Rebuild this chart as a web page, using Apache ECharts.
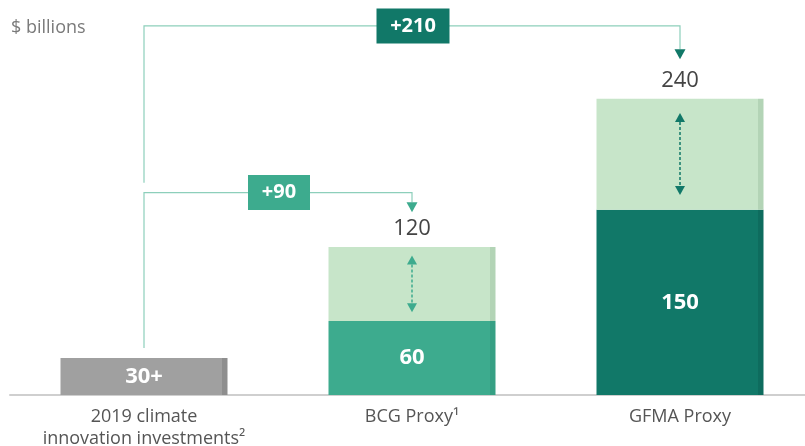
<!DOCTYPE html>
<html>
<head>
<meta charset="utf-8">
<script src="https://cdn.jsdelivr.net/npm/echarts@6/dist/echarts.min.js"></script>
<style>html,body{margin:0;padding:0;background:#fff;}#c{width:805px;height:446px;}</style>
</head>
<body>
<div id="c"></div>
<script>
// ---- data ----
var categories = ['2019 climate\ninnovation investments\u00B2', 'BCG Proxy\u00B9', 'GFMA Proxy'];
var baseValues = [30, 60, 150];
var baseLabels = ['30+', '60', '150'];
var upliftValues = [null, 60, 90];
var totalValues = [null, 120, 240];
var deltaLabels = ['+90', '+210'];
var deltaTargets = [1, 2];           // category index each delta arrow points to
// annotation anchor values (in axis units)
var deltaStart = [38, 172];
var deltaLevel = [164, 299];
var deltaTip = [148, 272];
var rangeArrowCats = [1, 2];
var rangeArrowLow = [67, 162];
var rangeArrowHigh = [113, 228.5];

// ---- styles ----
var FONT = 'Open Sans';
function edge(c, e) {
  return {type:'linear', x:0, y:0, x2:1, y2:0,
    colorStops:[{offset:0,color:c},{offset:0.97,color:c},{offset:0.97,color:e},{offset:1,color:e}]};
}
var baseColors = [edge('#a0a0a0','#8e8e8e'), edge('#3dab8e','#36a084'), edge('#117868','#0e6c5e')];
var lightColor = edge('#c7e5c9','#b3d4b6');
var deltaColors = ['#3dab8e', '#117868'];
var rangeColors = ['#3dab8e', '#117868'];
var lineColor = '#8dcfbb';

var chart = echarts.init(document.getElementById('c'), null, {renderer:'canvas'});

var connectorData = deltaLabels.map(function (l, i) { return [i]; });
var rangeData = rangeArrowCats.map(function (c, i) { return [i]; });

chart.setOption({
  animation: false,
  title: {text:'$ billions', left: 6, top: 14,
    textStyle:{fontFamily:FONT, fontSize:18, fontWeight:'normal', color:'#7a7a7a'}},
  grid: {left: 10, width: 804, top: 0, bottom: 51, containLabel: false, outerBoundsMode: 'none'},
  xAxis: {
    type: 'category', data: categories,
    axisLine: {show:true, lineStyle:{color:'#cfcfcf', width:2}},
    axisTick: {show:false},
    axisLabel: {fontFamily:FONT, fontSize:18, color:'#555', lineHeight:22, margin:11, interval:0}
  },
  yAxis: {type:'value', min:0, max:320, show:false, splitLine:{show:false}},
  series: [
    {
      type:'bar', stack:'s', barWidth:167,
      data: baseValues.map(function (v, i) {
        return {value:v, itemStyle:{color:baseColors[i]}};
      }),
      label: {show:true, position:'inside', fontFamily:FONT, fontSize:22, fontWeight:'bold', color:'#fff',
        formatter:function (p) { return baseLabels[p.dataIndex]; }}
    },
    {
      type:'bar', stack:'s', barWidth:167,
      itemStyle:{color:lightColor},
      data: upliftValues,
      label: {show:true, position:'top', distance:7, fontFamily:FONT, fontSize:22, color:'#444',
        formatter:function (p) { var t = totalValues[p.dataIndex]; return t == null ? '' : String(t); }}
    },
    {
      type:'custom', silent:true, z:5,
      data: connectorData,
      renderItem: function (params, api) {
        var i = api.value(0);
        var t = deltaTargets[i];
        var p0 = api.coord([0, deltaStart[i]]);
        var pl = api.coord([0, deltaLevel[i]]);
        var p1 = api.coord([t, deltaLevel[i]]);
        var pt = api.coord([t, deltaTip[i]]);
        var triH = 10, triW = 11;
        var mx = (pl[0] + p1[0]) / 2 + 1;
        var bw = deltaLabels[i].length > 3 ? 73 : 62, bh = 35;
        return {type:'group', children:[
          {type:'polyline', shape:{points:[[pl[0], p0[1]], [pl[0], pl[1]], [p1[0], p1[1]], [p1[0], pt[1] - triH]]},
            style:{stroke:lineColor, lineWidth:1.2, fill:null}},
          {type:'polygon', shape:{points:[[pt[0]-triW/2, pt[1]-triH], [pt[0]+triW/2, pt[1]-triH], [pt[0], pt[1]]]},
            style:{fill:deltaColors[i]}},
          {type:'rect', shape:{x:mx - bw/2, y:pl[1] - bh/2, width:bw, height:bh},
            style:{fill:deltaColors[i]}},
          {type:'text', x:mx, y:pl[1],
            style:{text:deltaLabels[i], fill:'#fff', font:'bold 20px "' + FONT + '"', align:'center', verticalAlign:'middle'}}
        ]};
      }
    },
    {
      type:'custom', silent:true, z:5,
      data: rangeData,
      renderItem: function (params, api) {
        var i = api.value(0);
        var c = rangeArrowCats[i];
        var lo = api.coord([c, rangeArrowLow[i]]);
        var hi = api.coord([c, rangeArrowHigh[i]]);
        var th = 9, tw = 10, x = lo[0];
        var col = rangeColors[i];
        return {type:'group', children:[
          {type:'line', shape:{x1:x, y1:hi[1] + th, x2:x, y2:lo[1] - th},
            style:{stroke:col, lineWidth:1.5, lineDash:[3,2]}},
          {type:'polygon', shape:{points:[[x - tw/2, hi[1] + th], [x + tw/2, hi[1] + th], [x, hi[1]]]}, style:{fill:col}},
          {type:'polygon', shape:{points:[[x - tw/2, lo[1] - th], [x + tw/2, lo[1] - th], [x, lo[1]]]}, style:{fill:col}}
        ]};
      }
    }
  ]
});
</script>
</body>
</html>
